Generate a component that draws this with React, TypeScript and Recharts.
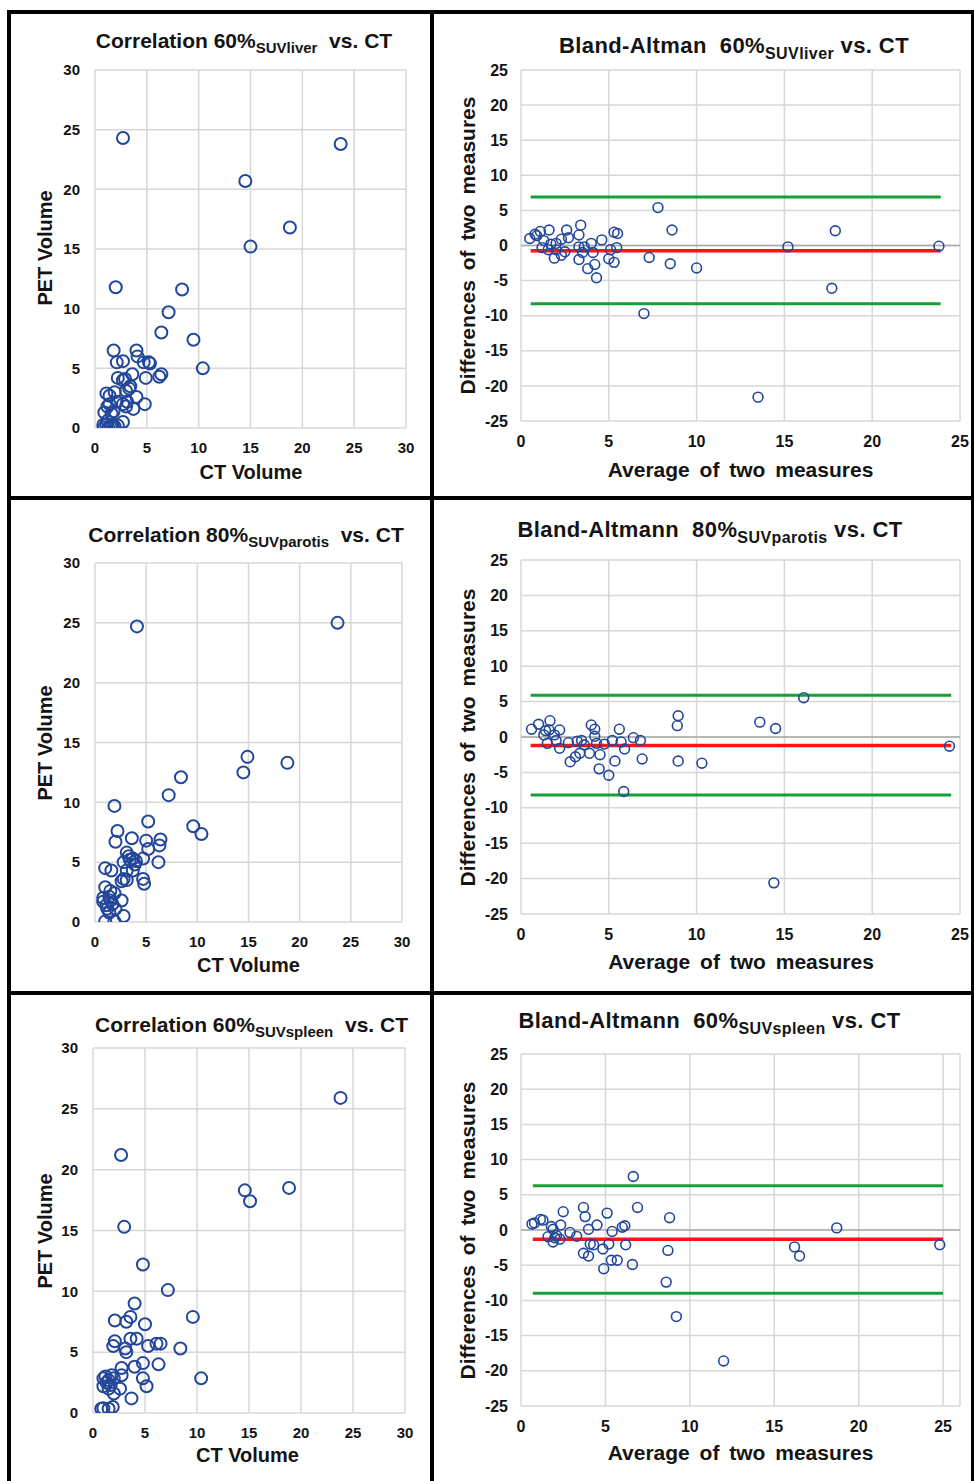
import React from 'react';
import { ScatterChart, Scatter, XAxis, YAxis, CartesianGrid, ReferenceLine } from 'recharts';

const FONT = '"Liberation Sans", Arial, Helvetica, sans-serif';
const BLUE = '#22479a';
const TEXT = '#141414';

type Pt = [number, number];

// ---------- tick labels ----------
const corrTicks = [0, 5, 10, 15, 20, 25, 30];
const baXTicks = [0, 5, 10, 15, 20, 25];
const baYTicks = [-25, -20, -15, -10, -5, 0, 5, 10, 15, 20, 25];

// ---------- 60% SUVliver ----------
const liverCorr: Pt[] = [
  [2.7, 24.3], [23.7, 23.8], [14.5, 20.7], [18.8, 16.8], [15.0, 15.2], [2.0, 11.8], [8.4, 11.6],
  [7.1, 9.7], [6.4, 8.0], [9.5, 7.4], [10.4, 5.0],
  [1.8, 6.5], [4.0, 6.5], [4.1, 6.0], [2.1, 5.5], [2.7, 5.6], [4.7, 5.5], [5.2, 5.5], [5.3, 5.4],
  [4.9, 4.2], [6.2, 4.3], [6.4, 4.5], [2.2, 4.2], [2.9, 4.1], [3.6, 4.5], [2.7, 4.0], [3.4, 3.5],
  [3.0, 3.1], [3.3, 3.3], [1.1, 2.9], [1.9, 3.0], [1.4, 2.7], [4.0, 2.6], [4.8, 2.0], [3.1, 2.2],
  [2.7, 2.0], [3.0, 1.8], [2.1, 2.2], [1.2, 1.8], [1.4, 2.0], [3.7, 1.6], [1.8, 1.4], [0.9, 1.3],
  [1.6, 1.2], [2.7, 0.5], [1.1, 0.3], [1.5, 0.1], [1.9, 0.1], [0.9, 0.05], [1.3, 0.0], [2.2, 0.2],
  [0.8, 0.25], [1.7, 0.3], [1.2, 0.6],
];
const liverBA: Pt[] = [
  [0.5, 1.0], [0.8, 1.6], [1.1, 2.0], [1.6, 2.2], [1.3, 0.7], [1.2, -0.3], [1.7, 0.2], [1.55, -0.6],
  [2.0, -0.6], [1.9, -1.8], [2.3, -1.4], [2.5, -0.9], [2.3, 0.9], [2.6, 2.2], [2.7, 1.1], [3.4, 2.9],
  [3.3, 1.5], [3.3, -0.2], [3.6, -0.2], [3.5, -1.0], [3.3, -2.0], [3.8, -3.3], [4.1, -1.0], [4.2, -2.7],
  [4.3, -4.6], [4.6, 0.8], [5.0, -1.9], [5.1, -0.6], [5.3, 1.9], [5.5, 1.7], [5.45, -0.3], [5.3, -2.4],
  [7.0, -9.7], [7.3, -1.7], [7.8, 5.4], [8.6, 2.2], [8.5, -2.6], [10.0, -3.2], [13.5, -21.6],
  [15.2, -0.2], [17.9, 2.1], [17.7, -6.1], [23.8, -0.1], [0.9, 1.4], [2.0, 0.3], [4.0, 0.3],
];
const liverBALevels = [6.9, -0.74, -8.3]; // upper limit, mean, lower limit
const liverBASpan = [0.55, 23.9];

// ---------- 80% SUVparotis ----------
const parotisCorr: Pt[] = [
  [4.1, 24.7], [23.7, 25.0], [14.9, 13.8], [14.5, 12.5], [18.8, 13.3], [8.4, 12.1], [7.2, 10.6],
  [1.9, 9.7], [5.2, 8.4], [9.6, 8.0], [10.4, 7.35], [2.2, 7.6], [2.0, 6.7], [3.6, 7.0], [5.0, 6.8],
  [6.4, 6.9], [6.3, 6.4], [5.2, 6.1], [6.2, 5.0], [3.1, 5.8], [3.7, 5.3], [4.7, 5.3], [2.8, 5.0],
  [3.3, 5.5], [3.9, 4.8], [4.0, 5.1], [1.0, 4.5], [1.6, 4.3], [3.1, 4.3], [3.7, 4.3], [2.6, 3.4],
  [2.8, 3.6], [4.7, 3.6], [4.8, 3.2], [3.1, 3.5], [1.0, 2.9], [1.5, 2.6], [1.9, 2.4], [0.8, 2.0],
  [1.4, 2.1], [1.5, 1.8], [2.6, 1.8], [1.1, 1.4], [1.2, 1.1], [2.0, 1.1], [1.4, 0.8], [2.8, 0.5],
  [1.0, 0.05], [1.9, 0.05], [0.8, 1.7], [1.7, 1.5], [3.4, 5.2],
];
const parotisBA: Pt[] = [
  [0.6, 1.1], [1.0, 1.8], [1.65, 2.3], [1.6, 1.0], [1.3, 0.3], [1.5, -0.9], [1.9, 0.3], [2.0, -0.5],
  [2.2, 1.0], [2.2, -1.6], [2.8, -3.5], [3.1, -2.8], [3.2, -0.6], [3.45, -0.5], [3.35, -2.3],
  [3.6, -1.1], [3.9, -2.3], [4.0, 1.7], [4.2, 1.1], [4.2, 0.1], [4.3, -0.9], [4.5, -2.5], [4.45, -4.5],
  [5.0, -5.4], [4.75, -1.0], [5.2, -0.5], [5.35, -3.4], [5.6, 1.1], [5.7, -0.7], [5.9, -1.7],
  [5.85, -7.7], [6.4, -0.1], [6.8, -0.5], [6.9, -3.1], [8.95, 3.0], [8.9, 1.6], [8.95, -3.4],
  [10.3, -3.7], [13.6, 2.1], [14.5, 1.2], [14.4, -20.6], [16.1, 5.55], [24.4, -1.3], [1.4, 0.9],
  [2.7, -0.8],
];
const parotisBALevels = [5.9, -1.2, -8.2];
const parotisBASpan = [0.55, 24.5];

// ---------- 60% SUVspleen ----------
const spleenCorr: Pt[] = [
  [23.8, 25.9], [2.7, 21.2], [14.6, 18.3], [15.1, 17.4], [18.85, 18.5], [3.0, 15.3], [4.8, 12.2],
  [7.2, 10.1], [4.0, 9.0], [9.6, 7.9], [2.1, 7.6], [3.6, 7.9], [3.2, 7.5], [5.0, 7.3], [2.1, 5.9],
  [3.6, 6.1], [4.2, 6.1], [1.95, 5.5], [3.1, 5.3], [3.2, 5.0], [5.3, 5.5], [6.1, 5.7], [6.5, 5.7],
  [8.4, 5.3], [2.75, 3.7], [4.0, 3.8], [4.8, 4.1], [6.3, 4.0], [2.75, 3.1], [4.8, 2.85], [5.15, 2.2],
  [10.4, 2.85], [1.0, 2.85], [1.5, 2.7], [2.0, 2.85], [1.0, 2.2], [1.5, 2.0], [2.6, 2.0], [2.0, 1.6],
  [3.7, 1.2], [1.0, 0.4], [1.5, 0.35], [1.9, 0.5], [0.8, 0.35], [1.3, 2.5], [1.7, 2.3], [1.2, 3.0],
  [1.8, 3.1],
];
const spleenBA: Pt[] = [
  [0.65, 0.85], [0.8, 1.0], [1.15, 1.5], [1.3, 1.4], [1.8, 0.5], [1.6, -0.95], [1.9, -1.7], [2.1, -0.8],
  [2.3, -1.3], [2.35, 0.7], [2.5, 2.6], [2.9, -0.35], [3.3, -0.9], [3.7, 3.2], [3.8, 1.9], [4.0, 0.1],
  [3.7, -3.3], [4.0, -3.7], [4.1, -2.0], [4.3, -2.1], [4.5, 0.7], [4.85, -2.7], [4.9, -5.5], [5.1, 2.4],
  [5.2, -2.0], [5.4, -0.2], [5.35, -4.3], [5.7, -4.3], [6.0, 0.4], [6.15, 0.6], [6.2, -2.1],
  [6.6, -4.9], [6.65, 7.6], [6.9, 3.2], [8.6, -7.4], [8.8, 1.75], [8.7, -2.9], [9.2, -12.3],
  [12.0, -18.6], [16.2, -2.4], [16.5, -3.7], [18.7, 0.3], [24.8, -2.1], [2.0, -1.1], [1.9, 0.1],
];
const spleenBALevels = [6.3, -1.3, -9.0];
const spleenBASpan = [0.7, 25.0];

// ---------- helpers ----------
const toRows = (pts: Pt[]) => pts.map(([x, y]) => ({ x, y }));

type Box = { left: number; top: number; width: number; height: number };
type Plot = { x0: number; x1: number; y0: number; y1: number };

interface PanelProps {
  box: Box;
  plot: Plot;
  xDomain: [number, number];
  yDomain: [number, number];
  xTicks: number[];
  yTicks: number[];
  points: Pt[];
  r: number;
  sw: number;
  tickFs: number;
  xGap: number;
  yGap: number;
  levels?: number[];
  span?: number[];
}

function Panel(p: PanelProps) {
  const YW = 40;
  const XH = 30;
  const margin = {
    left: p.plot.x0 - p.box.left - YW,
    top: p.plot.y0 - p.box.top,
    right: p.box.left + p.box.width - p.plot.x1,
    bottom: p.box.top + p.box.height - p.plot.y1 - XH,
  };
  const tick = { fill: TEXT, fontSize: p.tickFs, fontWeight: 700, fontFamily: FONT };
  const rows = toRows(p.points);
  const ba = !!p.levels;
  return (
    <div style={{ position: 'absolute', left: p.box.left, top: p.box.top }}>
      <ScatterChart width={p.box.width} height={p.box.height} margin={margin}>
        <CartesianGrid stroke="#d7d7d7" strokeWidth={1.5} />
        <XAxis
          type="number"
          dataKey="x"
          domain={p.xDomain}
          ticks={p.xTicks}
          interval={0}
          allowDataOverflow
          axisLine={false}
          tickLine={false}
          tickSize={0}
          tickMargin={p.xGap}
          height={XH}
          tick={tick}
        />
        <YAxis
          type="number"
          dataKey="y"
          domain={p.yDomain}
          ticks={p.yTicks}
          interval={0}
          allowDataOverflow
          axisLine={false}
          tickLine={false}
          tickSize={0}
          tickMargin={p.yGap}
          width={YW}
          tick={tick}
        />
        {ba && <ReferenceLine y={0} stroke="#a9a9a9" strokeWidth={1.5} />}
        {ba && p.levels && p.span && (
          <ReferenceLine
            segment={[{ x: p.span[0], y: p.levels[0] }, { x: p.span[1], y: p.levels[0] }]}
            stroke="#16a138"
            strokeWidth={3}
          />
        )}
        {ba && p.levels && p.span && (
          <ReferenceLine
            segment={[{ x: p.span[0], y: p.levels[2] }, { x: p.span[1], y: p.levels[2] }]}
            stroke="#16a138"
            strokeWidth={3}
          />
        )}
        {ba && p.levels && p.span && (
          <ReferenceLine
            segment={[{ x: p.span[0], y: p.levels[1] }, { x: p.span[1], y: p.levels[1] }]}
            stroke="#ff1414"
            strokeWidth={3.5}
          />
        )}
        <Scatter
          data={rows}
          isAnimationActive={false}
          shape={(s: any) => (
            <circle cx={s.cx} cy={s.cy} r={p.r} fill="none" stroke={BLUE} strokeWidth={p.sw} />
          )}
        />
      </ScatterChart>
    </div>
  );
}

function Title(props: { cx: number; cy: number; fs: number; subFs: number; main: string; sub: string; tail: string; shift: number; ls?: number }) {
  const { cx, cy, fs, subFs, main, sub, tail, shift, ls } = props;
  return (
    <div
      style={{
        position: 'absolute',
        left: cx - 300,
        width: 600,
        top: cy - 0.49 * fs,
        fontSize: fs,
        lineHeight: `${fs}px`,
        fontWeight: 700,
        textAlign: 'center',
        whiteSpace: 'pre',
        color: TEXT,
        fontFamily: FONT,
        letterSpacing: ls || 0,
      }}
    >
      {main}
      <span style={{ fontSize: subFs, position: 'relative', top: shift }}>{sub}</span>
      {tail}
    </div>
  );
}

function HLabel(props: { cx: number; cy: number; fs: number; text: string; ws?: number }) {
  const { cx, cy, fs, text, ws } = props;
  return (
    <div
      style={{
        position: 'absolute',
        left: cx - 250,
        width: 500,
        top: cy - 0.49 * fs,
        fontSize: fs,
        lineHeight: `${fs}px`,
        fontWeight: 700,
        textAlign: 'center',
        whiteSpace: 'pre',
        color: TEXT,
        fontFamily: FONT,
        wordSpacing: ws || 0,
      }}
    >
      {text}
    </div>
  );
}

function VLabel(props: { cx: number; cy: number; fs: number; text: string; ws?: number }) {
  const { cx, cy, fs, text, ws } = props;
  return (
    <div
      style={{
        position: 'absolute',
        left: cx - 250,
        width: 500,
        top: cy - fs / 2,
        height: fs,
        fontSize: fs,
        lineHeight: `${fs}px`,
        fontWeight: 700,
        textAlign: 'center',
        whiteSpace: 'pre',
        color: TEXT,
        fontFamily: FONT,
        wordSpacing: ws || 0,
        transform: 'rotate(-90deg)',
      }}
    >
      {text}
    </div>
  );
}

function Bar(props: { left: number; top: number; width: number; height: number }) {
  return <div style={{ position: 'absolute', background: '#000', ...props }} />;
}

export default function App() {
  const corrCommon = {
    xDomain: [0, 30] as [number, number],
    yDomain: [0, 30] as [number, number],
    xTicks: corrTicks,
    yTicks: corrTicks,
    r: 6,
    sw: 2,
    tickFs: 15,
    xGap: 14,
    yGap: 15,
  };
  const baCommon = {
    yDomain: [-25, 25] as [number, number],
    xTicks: baXTicks,
    yTicks: baYTicks,
    r: 4.9,
    sw: 1.6,
    tickFs: 16,
    xGap: 15,
    yGap: 13,
  };
  return (
    <div
      style={{
        position: 'absolute',
        left: 0,
        top: 0,
        width: 974,
        height: 1481,
        background: '#fff',
        overflow: 'hidden',
        fontFamily: FONT,
      }}
    >
      {/* Row 1 */}
      <Panel {...corrCommon} box={{ left: 11, top: 14, width: 419, height: 482 }} plot={{ x0: 95, x1: 406, y0: 70, y1: 428 }} points={liverCorr} />
      <Panel {...baCommon} xDomain={[0, 25]} box={{ left: 434, top: 14, width: 537, height: 482 }} plot={{ x0: 521, x1: 960, y0: 70, y1: 421 }} points={liverBA} levels={liverBALevels} span={liverBASpan} />
      {/* Row 2 */}
      <Panel {...corrCommon} box={{ left: 11, top: 500, width: 419, height: 491 }} plot={{ x0: 95, x1: 402, y0: 563, y1: 922 }} points={parotisCorr} />
      <Panel {...baCommon} xDomain={[0, 25]} box={{ left: 434, top: 500, width: 537, height: 491 }} plot={{ x0: 521, x1: 960, y0: 560, y1: 914 }} points={parotisBA} levels={parotisBALevels} span={parotisBASpan} />
      {/* Row 3 */}
      <Panel {...corrCommon} box={{ left: 11, top: 995, width: 419, height: 486 }} plot={{ x0: 93, x1: 405, y0: 1048, y1: 1413 }} points={spleenCorr} />
      <Panel {...baCommon} xDomain={[0, 26]} box={{ left: 434, top: 995, width: 537, height: 486 }} plot={{ x0: 521, x1: 960, y0: 1054, y1: 1406 }} points={spleenBA} levels={spleenBALevels} span={spleenBASpan} />

      {/* Titles */}
      <Title cx={244} cy={40} fs={21} subFs={15} shift={5} main="Correlation 60%" sub="SUVliver" tail={'  vs. CT'} />
      <Title cx={734} cy={45.5} fs={22} subFs={16} shift={6} ls={0.4} main={'Bland-Altman  60%'} sub="SUVliver" tail={' vs. CT'} />
      <Title cx={246} cy={534.5} fs={21} subFs={15} shift={5} main="Correlation 80%" sub="SUVparotis" tail={'  vs. CT'} />
      <Title cx={710} cy={530} fs={22} subFs={16} shift={6} ls={0.4} main={'Bland-Altmann  80%'} sub="SUVparotis" tail={' vs. CT'} />
      <Title cx={251.5} cy={1024.5} fs={21} subFs={15} shift={5} main="Correlation 60%" sub="SUVspleen" tail={'  vs. CT'} />
      <Title cx={709.5} cy={1020.5} fs={22} subFs={16} shift={6} ls={0.4} main={'Bland-Altmann  60%'} sub="SUVspleen" tail={' vs. CT'} />

      {/* Axis titles */}
      <HLabel cx={251} cy={472} fs={20} text="CT Volume" />
      <VLabel cx={45} cy={248} fs={20} text="PET Volume" />
      <HLabel cx={740.5} cy={469.5} fs={21} text="Average of two measures" ws={4} />
      <VLabel cx={467} cy={245.5} fs={21} text="Differences of two measures" ws={4} />

      <HLabel cx={248.5} cy={964.5} fs={20} text="CT Volume" />
      <VLabel cx={45} cy={743} fs={20} text="PET Volume" />
      <HLabel cx={741} cy={961.5} fs={21} text="Average of two measures" ws={4} />
      <VLabel cx={467} cy={737.5} fs={21} text="Differences of two measures" ws={4} />

      <HLabel cx={247.5} cy={1455} fs={20} text="CT Volume" />
      <VLabel cx={45} cy={1231} fs={20} text="PET Volume" />
      <HLabel cx={740.5} cy={1452.5} fs={21} text="Average of two measures" ws={4} />
      <VLabel cx={467} cy={1230} fs={21} text="Differences of two measures" ws={4} />

      {/* Frame */}
      <Bar left={7} top={10} width={967} height={4} />
      <Bar left={7} top={10} width={4} height={1471} />
      <Bar left={430} top={10} width={4} height={1471} />
      <Bar left={971} top={10} width={3} height={1471} />
      <Bar left={7} top={496} width={967} height={4} />
      <Bar left={7} top={991} width={967} height={4} />
    </div>
  );
}
